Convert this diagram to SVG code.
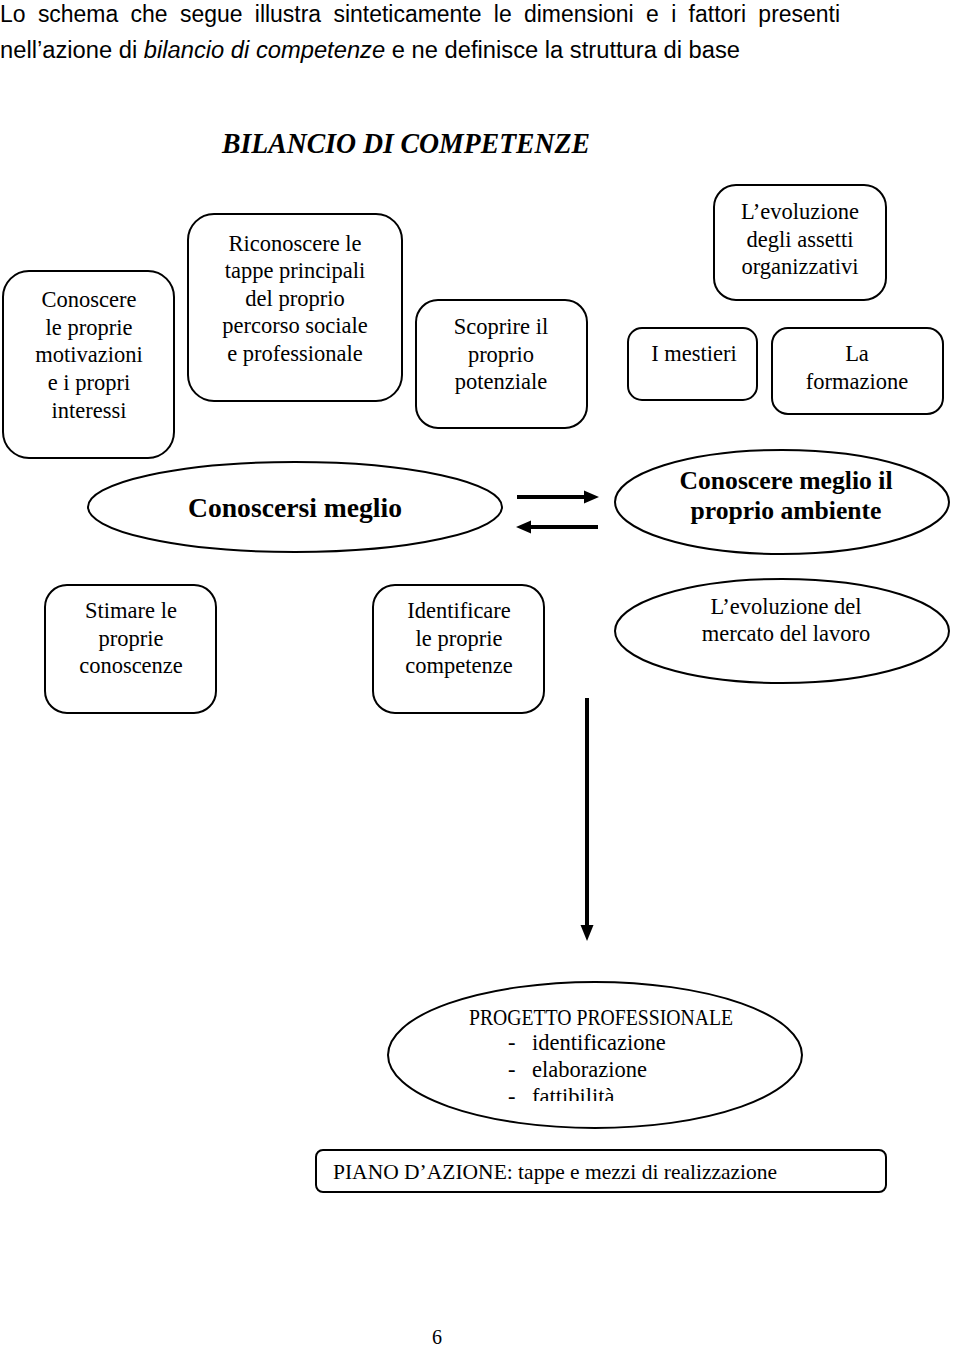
<svg xmlns="http://www.w3.org/2000/svg" width="960" height="1350" viewBox="0 0 960 1350">
<style>
.bx{fill:#fff;stroke:#000;stroke-width:2}
.t{font-family:"Liberation Serif","Times New Roman",serif;font-size:22.5px;fill:#000;text-anchor:middle}
.tl{font-family:"Liberation Serif","Times New Roman",serif;font-size:22.5px;fill:#000}
.tb{font-family:"Liberation Serif","Times New Roman",serif;font-weight:bold;fill:#000;text-anchor:middle}
.hd{font-family:"Liberation Sans",Arial,sans-serif;font-size:23px;fill:#000}
.cn{stroke:#000;stroke-width:4;fill:none}
</style>
<defs>
<clipPath id="clipP"><rect x="380" y="980" width="440" height="121"/></clipPath>
</defs>
<rect width="960" height="1350" fill="#fff"/>
<g id="header">
<text class="hd" x="0" y="22" word-spacing="6" textLength="840" lengthAdjust="spacingAndGlyphs">Lo schema che segue illustra sinteticamente le dimensioni e i fattori presenti</text>
<text class="hd" x="0" y="58" textLength="740" lengthAdjust="spacingAndGlyphs">nell’azione di <tspan font-style="italic">bilancio di competenze</tspan> e ne definisce la struttura di base</text>
<text x="222" y="153" font-family="'Liberation Serif','Times New Roman',serif" font-weight="bold" font-style="italic" font-size="30" textLength="368" lengthAdjust="spacingAndGlyphs">BILANCIO DI COMPETENZE</text>
</g>
<g id="n_motivazioni">
<rect class="bx" x="3" y="271" width="171" height="187" rx="26"/>
<text class="t" x="89" y="307">Conoscere</text>
<text class="t" x="89" y="335">le proprie</text>
<text class="t" x="89" y="362">motivazioni</text>
<text class="t" x="89" y="390">e i propri</text>
<text class="t" x="89" y="418">interessi</text>
</g>
<g id="n_percorso">
<rect class="bx" x="188" y="214" width="214" height="187" rx="26"/>
<text class="t" x="295" y="251">Riconoscere le</text>
<text class="t" x="295" y="278">tappe principali</text>
<text class="t" x="295" y="306">del proprio</text>
<text class="t" x="295" y="333">percorso sociale</text>
<text class="t" x="295" y="361">e professionale</text>
</g>
<g id="n_potenziale">
<rect class="bx" x="416" y="300" width="171" height="128" rx="22"/>
<text class="t" x="501" y="334">Scoprire il</text>
<text class="t" x="501" y="362">proprio</text>
<text class="t" x="501" y="389">potenziale</text>
</g>
<g id="n_assetti">
<rect class="bx" x="714" y="185" width="172" height="115" rx="22"/>
<text class="t" x="800" y="219">L’evoluzione</text>
<text class="t" x="800" y="247">degli assetti</text>
<text class="t" x="800" y="274">organizzativi</text>
</g>
<g id="n_mestieri">
<rect class="bx" x="628" y="328" width="129" height="72" rx="14"/>
<text class="t" x="694" y="361">I mestieri</text>
</g>
<g id="n_formazione">
<rect class="bx" x="772" y="328" width="171" height="86" rx="16"/>
<text class="t" x="857" y="361">La</text>
<text class="t" x="857" y="389">formazione</text>
</g>
<g id="n_conoscersi">
<ellipse class="bx" cx="295" cy="507" rx="207" ry="45"/>
<text class="tb" x="295" y="517" font-size="27" textLength="214" lengthAdjust="spacingAndGlyphs">Conoscersi meglio</text>
</g>
<g id="n_ambiente">
<ellipse class="bx" cx="782" cy="502" rx="167" ry="52"/>
<text class="tb" x="786" y="489" font-size="25" textLength="213" lengthAdjust="spacingAndGlyphs">Conoscere meglio il</text>
<text class="tb" x="786" y="519" font-size="25" textLength="191" lengthAdjust="spacingAndGlyphs">proprio ambiente</text>
</g>
<g id="n_conoscenze">
<rect class="bx" x="45" y="585" width="171" height="128" rx="22"/>
<text class="t" x="131" y="618">Stimare le</text>
<text class="t" x="131" y="646">proprie</text>
<text class="t" x="131" y="673">conoscenze</text>
</g>
<g id="n_competenze">
<rect class="bx" x="373" y="585" width="171" height="128" rx="22"/>
<text class="t" x="459" y="618">Identificare</text>
<text class="t" x="459" y="646">le proprie</text>
<text class="t" x="459" y="673">competenze</text>
</g>
<g id="n_mercato">
<ellipse class="bx" cx="782" cy="631" rx="167" ry="52"/>
<text class="t" x="786" y="614">L’evoluzione del</text>
<text class="t" x="786" y="641">mercato del lavoro</text>
</g>
<g id="n_progetto">
<ellipse class="bx" cx="595" cy="1055" rx="207" ry="73"/>
<g clip-path="url(#clipP)">
<text class="t" x="601" y="1025" font-size="17.5" textLength="264" lengthAdjust="spacingAndGlyphs">PROGETTO PROFESSIONALE</text>
<text class="tl" x="508" y="1050">-</text>
<text class="tl" x="532" y="1050">identificazione</text>
<text class="tl" x="508" y="1077">-</text>
<text class="tl" x="532" y="1077">elaborazione</text>
<text class="tl" x="508" y="1104">-</text>
<text class="tl" x="532" y="1104">fattibilità</text>
</g>
</g>
<g id="n_piano">
<rect class="bx" x="316" y="1150" width="570" height="42" rx="7"/>
<text x="333" y="1179" font-family="'Liberation Serif','Times New Roman',serif" font-size="21.5">PIANO D’AZIONE: tappe e mezzi di realizzazione</text>
</g>
<g id="connectors">
<line class="cn" x1="517" y1="497" x2="586" y2="497"/>
<polygon points="599,497 584,490.5 584,503.5" fill="#000"/>
<line class="cn" x1="529" y1="527" x2="598" y2="527"/>
<polygon points="516,527 531,520.5 531,533.5" fill="#000"/>
<line class="cn" x1="587" y1="698" x2="587" y2="928"/>
<polygon points="587,941 580.5,925 593.5,925" fill="#000"/>
</g>
<text x="437" y="1344" font-family="'Liberation Serif','Times New Roman',serif" font-size="20" text-anchor="middle">6</text>
</svg>
